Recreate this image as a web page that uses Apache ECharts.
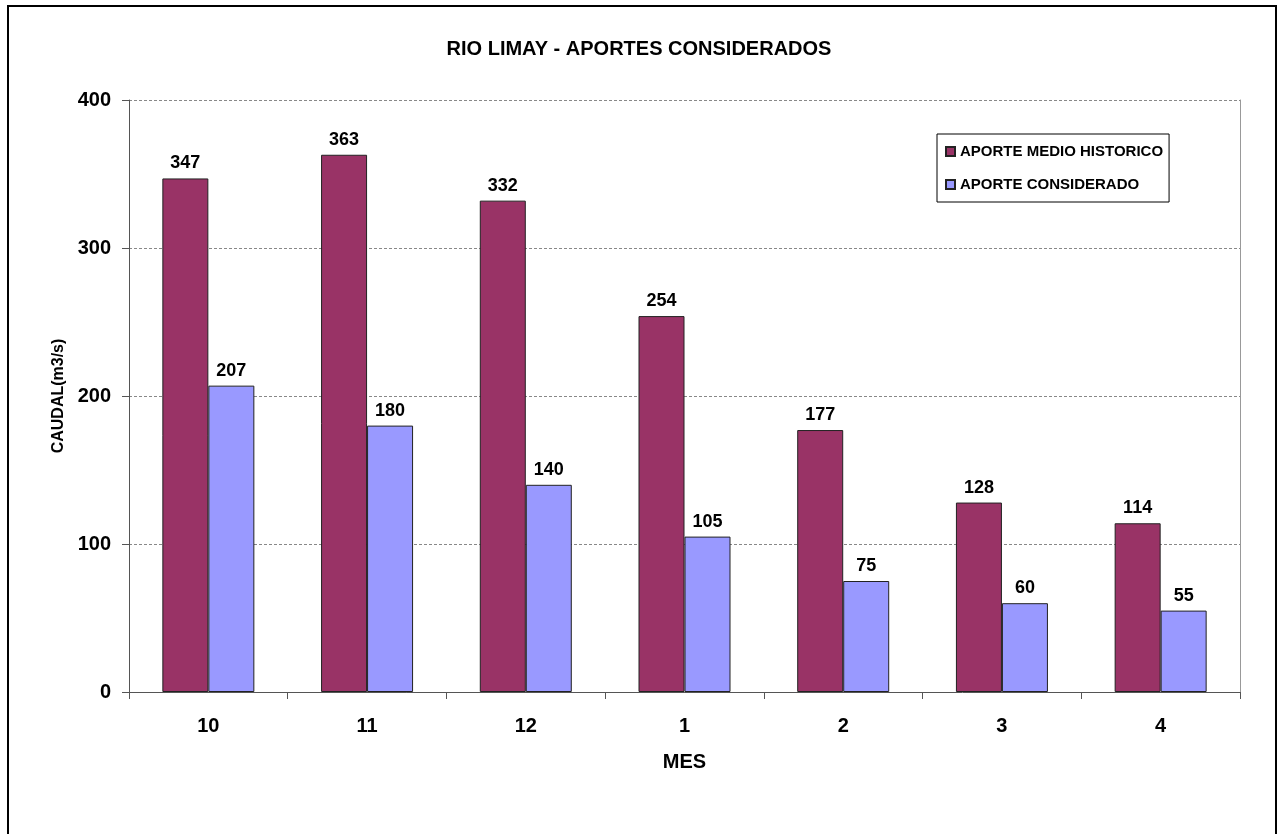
<!DOCTYPE html>
<html>
<head>
<meta charset="utf-8">
<script src="https://cdn.jsdelivr.net/npm/echarts@6/dist/echarts.min.js"></script>
<style>
  html, body { margin: 0; padding: 0; background: #fff; }
  #chart { width: 1278px; height: 834px; }
</style>
</head>
<body>
<div id="chart"></div>
<script>
// meses (oct -> abr)
const months = ['10', '11', '12', '1', '2', '3', '4'];
const aporteMedioHistorico = [347, 363, 332, 254, 177, 128, 114];
const aporteConsiderado = [207, 180, 140, 105, 75, 60, 55];

const FONT = '"Liberation Sans", Arial, sans-serif';

const chart = echarts.init(document.getElementById('chart'));

const labelStyle = {
  show: true,
  position: 'top',
  distance: 6,
  color: '#000',
  fontFamily: FONT,
  fontWeight: 'bold',
  fontSize: 18
};

const option = {
  backgroundColor: '#fff',
  animation: false,
  title: {
    text: 'RIO LIMAY - APORTES CONSIDERADOS',
    left: 'center',
    top: 34,
    textStyle: { fontFamily: FONT, fontWeight: 'bold', fontSize: 20, color: '#000' }
  },
  legend: {
    orient: 'vertical',
    left: 937,
    top: 134,
    padding: [10, 6, 10, 8],
    itemGap: 18,
    itemWidth: 9,
    itemHeight: 9,
    borderColor: '#000',
    borderWidth: 1,
    icon: 'rect',
    textStyle: { fontFamily: FONT, fontWeight: 'bold', fontSize: 15, color: '#000' },
    data: ['APORTE MEDIO HISTORICO', 'APORTE CONSIDERADO']
  },
  grid: { left: 129, right: 38, top: 100, bottom: 142 },
  xAxis: {
    type: 'category',
    data: months,
    name: 'MES',
    nameLocation: 'middle',
    nameGap: 60,
    nameTextStyle: { fontFamily: FONT, fontWeight: 'bold', fontSize: 20, color: '#000' },
    axisLine: { lineStyle: { color: '#555', width: 1 } },
    axisTick: { show: true, inside: false, length: 7, lineStyle: { color: '#555' } },
    axisLabel: { margin: 24, color: '#000', fontFamily: FONT, fontWeight: 'bold', fontSize: 20 }
  },
  yAxis: [
    {
      type: 'value',
      min: 0,
      max: 400,
      interval: 100,
      name: 'CAUDAL(m3/s)',
      nameLocation: 'middle',
      nameGap: 60,
      nameTextStyle: { fontFamily: FONT, fontWeight: 'bold', fontSize: 16, color: '#000' },
      axisLine: { show: true, lineStyle: { color: '#555', width: 1 } },
      axisTick: { show: true, inside: false, length: 7, lineStyle: { color: '#555' } },
      axisLabel: { margin: 18, color: '#000', fontFamily: FONT, fontWeight: 'bold', fontSize: 20 },
      splitLine: { show: true, lineStyle: { color: '#888', type: [3, 2], width: 1 } }
    },
    {
      type: 'value',
      min: 0,
      max: 400,
      interval: 100,
      position: 'right',
      axisLine: { show: true, lineStyle: { color: '#999', width: 1 } },
      axisTick: { show: false },
      axisLabel: { show: false },
      splitLine: { show: false }
    }
  ],
  graphic: [
    {
      type: 'rect',
      shape: { x: 8, y: 6, width: 1268, height: 840 },
      style: { fill: 'none', stroke: '#000', lineWidth: 2 },
      silent: true
    }
  ],
  series: [
    {
      name: 'APORTE MEDIO HISTORICO',
      type: 'bar',
      data: aporteMedioHistorico,
      barWidth: 46,
      barGap: '0%',
      itemStyle: { color: '#993366', borderColor: '#222', borderWidth: 1 },
      label: labelStyle
    },
    {
      name: 'APORTE CONSIDERADO',
      type: 'bar',
      data: aporteConsiderado,
      barWidth: 46,
      barGap: '0%',
      itemStyle: { color: '#9999FF', borderColor: '#222', borderWidth: 1 },
      label: labelStyle
    }
  ]
};

chart.setOption(option);
</script>
</body>
</html>
